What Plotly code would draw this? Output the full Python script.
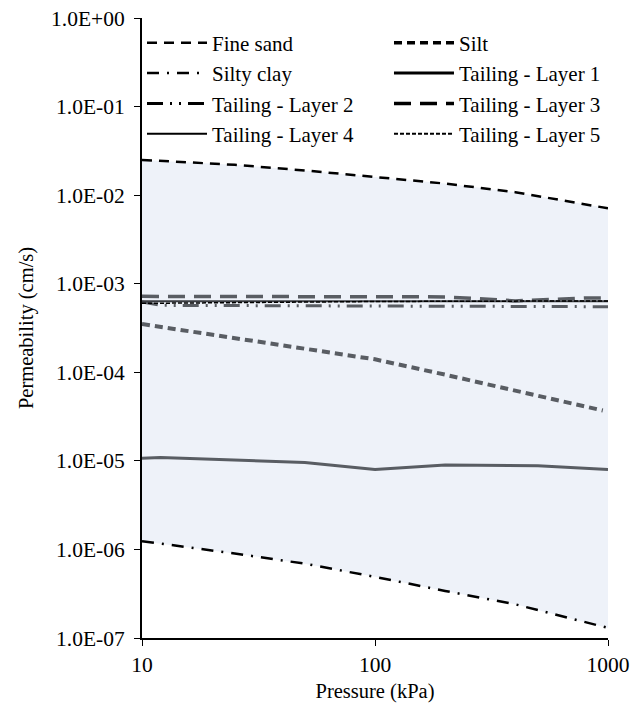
import plotly.graph_objects as go

# ---- data ----
P_FINE = [10, 25, 50, 100, 200, 400, 1000]
FINE_SAND = [0.025, 0.022, 0.019, 0.016, 0.0135, 0.0108, 0.0071]

P_SILT = [10, 25, 50, 100, 200, 400, 950]
SILT = [3.5e-4, 2.45e-4, 1.84e-4, 1.40e-4, 9.4e-5, 6.2e-5, 3.7e-5]

P_CLAY = [10, 25, 50, 100, 200, 400, 1000]
SILTY_CLAY = [1.24e-6, 9.0e-7, 6.9e-7, 4.9e-7, 3.4e-7, 2.4e-7, 1.3e-7]

P_L1 = [10, 12, 50, 100, 200, 500, 1000]
LAYER1 = [1.07e-5, 1.09e-5, 9.6e-6, 8.0e-6, 9.0e-6, 8.8e-6, 8.0e-6]

P_L2 = [10, 12, 100, 1000]
LAYER2 = [6.2e-4, 5.7e-4, 5.6e-4, 5.5e-4]

P_L3 = [10, 100, 200, 400, 800, 1000]
LAYER3 = [7.2e-4, 7.2e-4, 7.1e-4, 6.4e-4, 6.9e-4, 6.9e-4]

P_L4 = [10, 1000]
LAYER4 = [6.33e-4, 6.33e-4]

P_L5 = [10, 20, 100, 1000]
LAYER5 = [6.0e-4, 6.1e-4, 6.3e-4, 6.4e-4]

Y_TICKS = [1e0, 1e-1, 1e-2, 1e-3, 1e-4, 1e-5, 1e-6, 1e-7]
Y_LABELS = ["1.0E+00", "1.0E-01", "1.0E-02", "1.0E-03", "1.0E-04", "1.0E-05", "1.0E-06", "1.0E-07"]
X_TICKS = [10, 100, 1000]
X_LABELS = ["10", "100", "1000"]

GRAY = "#595D63"
BLACK = "#000000"
FONT = "Liberation Serif, Times New Roman, serif"

fig = go.Figure()

# shaded band between silty clay and fine sand
fig.add_trace(go.Scatter(x=P_CLAY, y=SILTY_CLAY, mode="lines", line=dict(width=0),
                         showlegend=False, hoverinfo="skip"))
fig.add_trace(go.Scatter(x=P_FINE, y=FINE_SAND, mode="lines", line=dict(width=0),
                         fill="tonexty", fillcolor="#EEF2F9", showlegend=False, hoverinfo="skip"))

series = [
    # name, x, y, plot color, width, dash, legend, legend width
    ("Fine sand", P_FINE, FINE_SAND, BLACK, 2.5, "10px,7px", "legend", 2.5),
    ("Silty clay", P_CLAY, SILTY_CLAY, BLACK, 2.5, "12px,8px,2px,8px", "legend", 2.5),
    ("Tailing - Layer 2", P_L2, LAYER2, GRAY, 3, "16px,7px,2px,7px,2px,7px", "legend", 3),
    ("Tailing - Layer 4", P_L4, LAYER4, "#3A3D42", 2, "solid", "legend", 2),
    ("Silt", P_SILT, SILT, GRAY, 4, "8px,5px", "legend2", 3.5),
    ("Tailing - Layer 1", P_L1, LAYER1, GRAY, 3, "solid", "legend2", 3),
    ("Tailing - Layer 3", P_L3, LAYER3, GRAY, 3.5, "17px,9px", "legend2", 3.5),
    ("Tailing - Layer 5", P_L5, LAYER5, BLACK, 1.5, "4px,2px", "legend2", 2),
]

for name, xs, ys, col, w, dash, lg, lw in series:
    fig.add_trace(go.Scatter(x=xs, y=ys, mode="lines", name=name, showlegend=False,
                             line=dict(color=col, width=w, dash=dash)))

for i, (name, xs, ys, col, w, dash, lg, lw) in enumerate(series):
    fig.add_trace(go.Scatter(x=[None], y=[None], mode="lines", name=name, legend=lg,
                             legendgroup=name, showlegend=True,
                             line=dict(color=BLACK, width=lw, dash=dash)))

legend_common = dict(font=dict(family=FONT, size=21, color="#000"), bgcolor="rgba(0,0,0,0)",
                     itemwidth=60, tracegroupgap=0, orientation="v",
                     xanchor="left", yanchor="top")

fig.update_layout(
    width=641, height=708,
    margin=dict(l=142, r=33, t=18, b=70),
    paper_bgcolor="white", plot_bgcolor="white",
    font=dict(family=FONT, size=21, color="#000"),
    legend=dict(x=0.0, y=0.9925, **legend_common),
    legend2=dict(x=0.53, y=0.9925, **legend_common),
    xaxis=dict(type="log", range=[1, 3], tickvals=X_TICKS, ticktext=X_LABELS,
               showline=True, linecolor="#000", linewidth=2, ticks="outside",
               ticklen=6, tickwidth=1, tickcolor="#000", showgrid=False, zeroline=False,
               automargin=False,
               title=dict(text="Pressure (kPa)", font=dict(family=FONT, size=20.5), standoff=8),
               tickfont=dict(family=FONT, size=21.5)),
    yaxis=dict(type="log", range=[-7, 0], tickvals=Y_TICKS, ticktext=Y_LABELS,
               showline=True, linecolor="#000", linewidth=2, ticks="outside",
               ticklen=6, tickwidth=1, tickcolor="#000", showgrid=False, zeroline=False,
               ticklabelstandoff=5, automargin=False,
               title=dict(text="Permeability (cm/s)", font=dict(family=FONT, size=20.5), standoff=12),
               tickfont=dict(family=FONT, size=21.5)),
)

fig.write_html("out.html")
